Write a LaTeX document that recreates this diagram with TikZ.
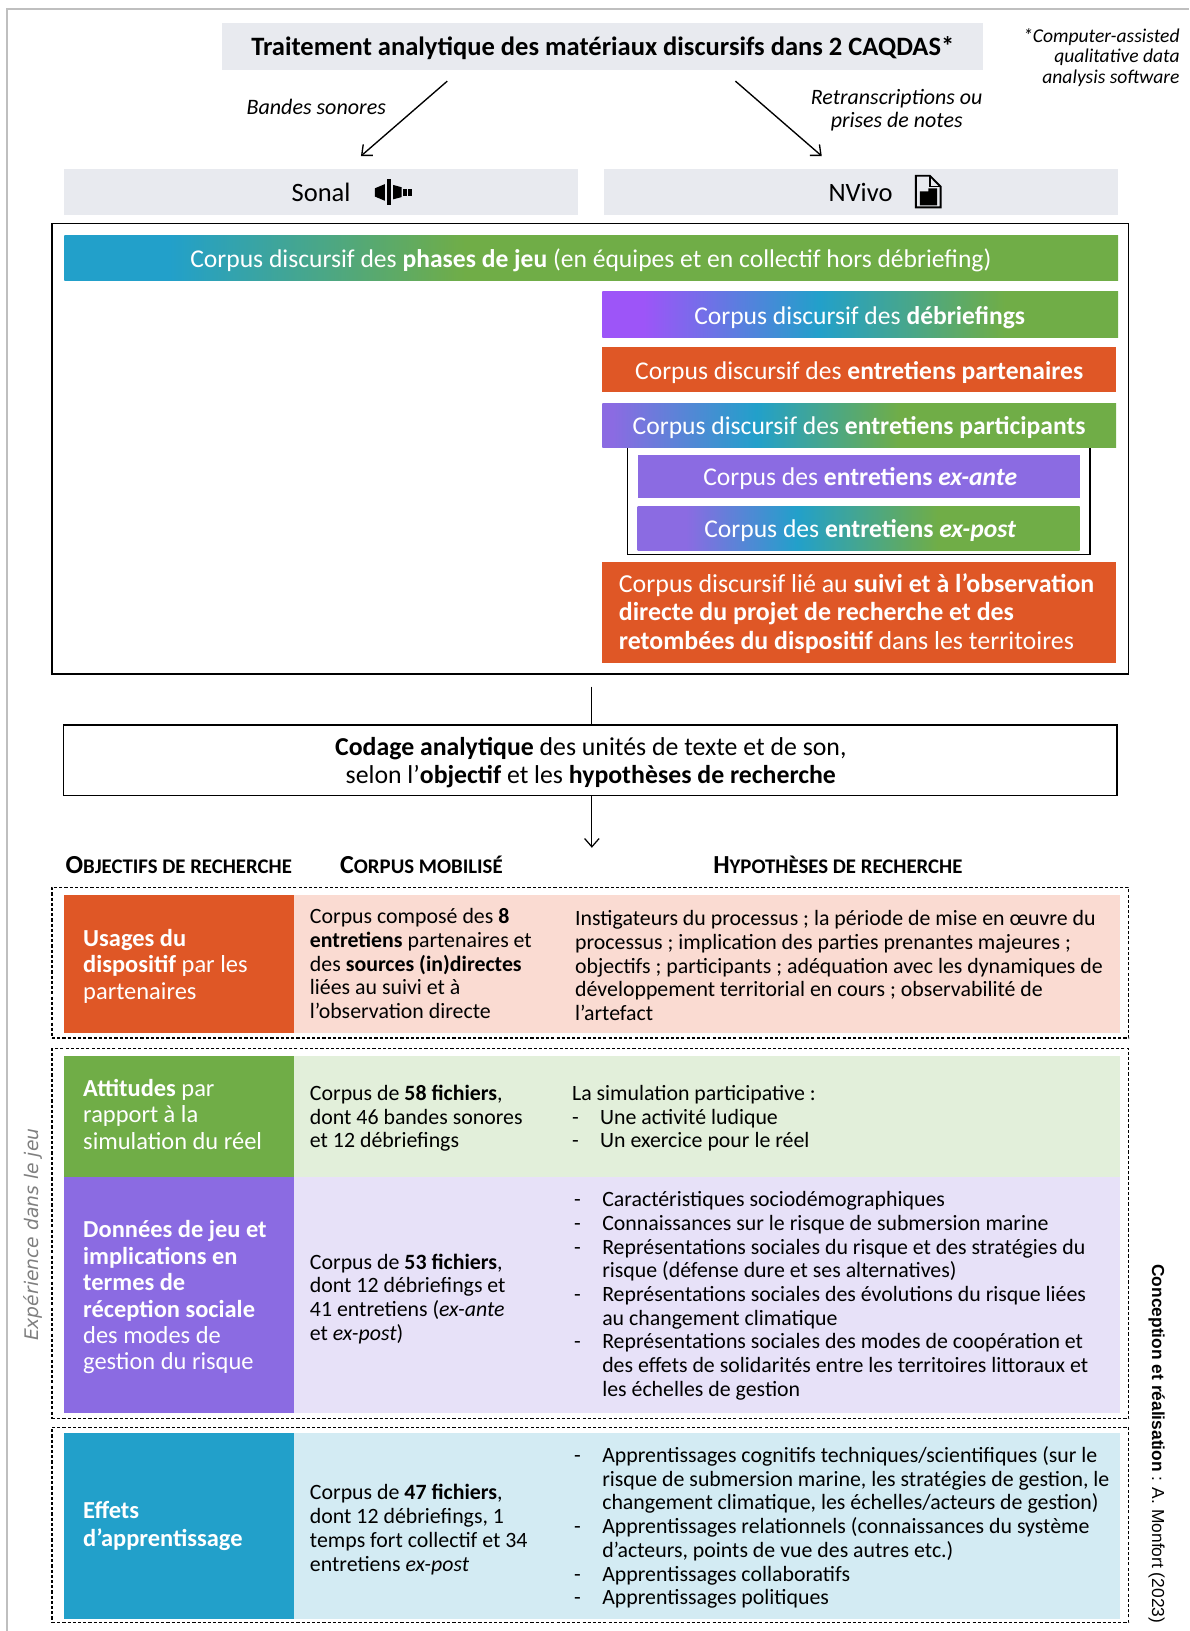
\documentclass[tikz,border=0pt]{standalone}
\usepackage{fontspec}
\setmainfont{Carlito}
\newfontfamily\dvsans{DejaVu Sans}
\newfontfamily\lsans{Liberation Sans}
\usetikzlibrary{arrows.meta,fit,calc}
\definecolor{boxgray}{HTML}{E8EAEF}
\definecolor{cblue}{HTML}{22A0CA}
\definecolor{cgreen}{HTML}{70AD47}
\definecolor{corange}{HTML}{DF5726}
\definecolor{cpurple}{HTML}{8B6BE2}
\definecolor{cviolet}{HTML}{9D55F8}
\definecolor{rowa}{HTML}{FADBD2}
\definecolor{rowb}{HTML}{E2EFDA}
\definecolor{rowc}{HTML}{E7E1F8}
\definecolor{rowd}{HTML}{D3EBF3}
\definecolor{framegray}{HTML}{BFBFBF}
\definecolor{vgray}{HTML}{7F7F7F}
\pgfdeclarehorizontalshading{gradA}{100bp}{color(0bp)=(cblue); color(30bp)=(cblue); color(44bp)=(cgreen); color(100bp)=(cgreen)}
\pgfdeclarehorizontalshading{gradB}{100bp}{color(0bp)=(cviolet); color(29bp)=(cviolet); color(46bp)=(cblue); color(64bp)=(cgreen); color(100bp)=(cgreen)}
\pgfdeclarehorizontalshading{gradC}{100bp}{color(0bp)=(cpurple); color(26bp)=(cpurple); color(40bp)=(cblue); color(54bp)=(cgreen); color(100bp)=(cgreen)}
\pgfdeclarehorizontalshading{gradD}{100bp}{color(0bp)=(cpurple); color(30.5bp)=(cpurple); color(43bp)=(cblue); color(59bp)=(cgreen); color(100bp)=(cgreen)}
\newcommand\ML[1]{\vtop{\halign{##\hfil\cr#1\crcr}}}
\newcommand\MLr[1]{\vtop{\halign{\hfil##\cr#1\crcr}}}
\newcommand\MLc[1]{\vtop{\halign{\hfil##\hfil\cr#1\crcr}}}
\newcommand\BL{\hbox to 27pt{-\hfil}}
\newcommand\CL{\hbox to 27pt{\hfil}}
\newcommand\FSC[2]{#1{\fontsize{20}{20}\selectfont #2}}
\begin{document}
\begin{tikzpicture}[x=1pt,y=-1pt,
  every node/.style={inner sep=0pt,outer sep=0pt},
  gbox/.style={fill=boxgray},
  frm/.style={draw,line width=1.4pt},
  dbox/.style={draw,line width=1.2pt,dash pattern=on 3pt off 2pt},
  bartxt/.style={text=white,font=\fontsize{24.6}{27}\selectfont,anchor=base},
  body/.style={font=\fontsize{21}{22.8}\selectfont,anchor=base west},
  lt/.style={text=white,font=\fontsize{23.5}{25.4}\selectfont,anchor=base west},
  hdr/.style={font=\fontsize{25}{25}\selectfont\bfseries,anchor=base west},
  arr/.style={line width=1.3pt,-{Straight Barb[length=8pt,width=14pt]}},
  conn/.style={line width=1.2pt}]
\useasboundingbox (0,0) rectangle (1143.2,1568);
\draw[framegray,line width=2pt] (7,1568) -- (7,8.5) -- (1143.2,8.5);

% top
\node[gbox,fit={(213,22)(945,67)}] (title) {};
\node[anchor=base,font=\fontsize{25.5}{28}\selectfont\bfseries] (titletxt) at (579.5,53) {Traitement analytique des matériaux discursifs dans 2 CAQDAS*};
\node[anchor=base east,font=\fontsize{18.8}{20}\selectfont\itshape] (fn) at (1134,40.5) {\MLr{*Computer-assisted\cr qualitative data\cr analysis software}};

\node[gbox,fit={(62,162)(556,207)}] (sonal) {};
\node[anchor=base east,font=\fontsize{25.5}{28}\selectfont] (sonaltxt) at (337,193.5) {Sonal};
\fill (360.5,181) -- (370,177) -- (370,193) -- (360.5,189) -- cycle;
\fill (372.3,172.4) rectangle (375.6,197);
\fill (378,177.8) -- (386,180) -- (386,189.5) -- (378,191.6) -- cycle;
\fill (387.7,182) rectangle (391.6,188.4);
\fill (392.5,182) rectangle (395.8,188.4);

\node[gbox,fit={(581,162)(1075,207)}] (nvivo) {};
\node[anchor=base east,font=\fontsize{25.5}{28}\selectfont] (nvivotxt) at (858,193.5) {NVivo};
\draw[line width=1.8pt,line join=miter] (880.5,169) -- (894,169) -- (904.3,179.5) -- (904.3,199.4) -- (880.5,199.4) -- cycle;
\draw[line width=1.2pt] (894,169) -- (894,179.5) -- (904.3,179.5);
\fill (884.4,184) -- (892.4,184) -- (892.4,181) -- (901,181) -- (901,197.5) -- (884.4,197.5) -- cycle;

\coordinate (a1s) at ($(title.south)+(-149,11)$);
\coordinate (a1e) at ($(sonal.north)+(38,-12)$);
\coordinate (a2s) at ($(title.south)+(128,11)$);
\coordinate (a2e) at ($(nvivo.north)+(-38,-12)$);
\draw[arr] (a1s) -- (a1e);
\draw[arr] (a2s) -- (a2e);
\node[anchor=base,font=\fontsize{21.2}{23}\selectfont\itshape] (lbs) at (304,110) {Bandes sonores};
\node[anchor=base,font=\fontsize{21.1}{23}\selectfont\itshape] (lrt) at (862,100) {\MLc{Retranscriptions ou\cr prises de notes}};

% big box
\node[frm,fit={(50,215)(1085,648)}] (big) {};
\node[frm,fit={(603,430)(1048,533)}] (inner) {};
\node[shading=gradA,fit={(62,226)(1075,270)}] (b1) {};
\node[shading=gradB,fit={(579,280)(1075,324)}] (b2) {};
\node[fill=corange,fit={(579,334)(1073,377)}] (b3) {};
\node[shading=gradC,fit={(579,388)(1073,430)}] (b4) {};
\node[fill=cpurple,fit={(613,437)(1038,479)}] (b5) {};
\node[shading=gradD,fit={(613,487)(1038,529)}] (b6) {};
\node[fill=corange,fit={(579,540)(1073,637)}] (b7) {};
\node[bartxt] (b1txt) at (568,257.5) {Corpus discursif des \textbf{phases de jeu} (en équipes et en collectif hors débriefing)};
\node[bartxt] (b2txt) at (826.5,311.5) {Corpus discursif des \textbf{débriefings}};
\node[bartxt] (b3txt) at (826,365) {Corpus discursif des \textbf{entretiens partenaires}};
\node[bartxt] (b4txt) at (826,418) {Corpus discursif des \textbf{entretiens participants}};
\node[bartxt] (b5txt) at (827,467) {Corpus des \textbf{entretiens \textit{ex-ante}}};
\node[bartxt] (b6txt) at (827,517) {Corpus des \textbf{entretiens \textit{ex-post}}};
\node[anchor=base west,text=white,font=\fontsize{24.9}{27}\selectfont] (b7txt) at (595,570) {\ML{Corpus discursif lié au \textbf{suivi et à l’observation}\cr \textbf{directe du projet de recherche et des}\cr \textbf{retombées du dispositif} dans les territoires}};

% codage
\node[frm,fit={(61,697)(1074,765)}] (codage) {};
\node[anchor=base,font=\fontsize{24.8}{27}\selectfont] (codtxt) at (568,726.5) {\MLc{\textbf{Codage analytique} des unités de texte et de son,\cr selon l’\textbf{objectif} et les \textbf{hypothèses de recherche}}};
\draw[conn] ($(big.south)+(1.5,12)$) -- ($(codage.north)+(1.5,0)$);
\draw[conn,-{Straight Barb[length=8pt,width=14pt]}] ($(codage.south)+(1.5,0)$) -- ($(codage.south)+(1.5,50)$);

% headers
\node[hdr] (h1) at (63,840) {\FSC{O}{BJECTIFS DE RECHERCHE}};
\node[hdr] (h2) at (327,840) {\FSC{C}{ORPUS MOBILISÉ}};
\node[hdr,anchor=base] (h3) at (805.5,840) {\FSC{H}{YPOTHÈSES DE RECHERCHE}};

% dashed groups
\node[dbox,fit={(50,853)(1085,998)}] (d1) {};
\node[dbox,fit={(50,1008)(1085,1364)}] (d2) {};
\node[dbox,fit={(50,1372)(1085,1560)}] (d3) {};

% cells
\node[fill=corange,fit={(62,860)(283,993)}] (r1l) {};
\node[fill=rowa,fit={(283,860)(1077,993)}] (r1r) {};
\node[fill=cgreen,fit={(62,1015)(283,1132)}] (r2l) {};
\node[fill=rowb,fit={(283,1015)(1077,1132)}] (r2r) {};
\node[fill=cpurple,fit={(62,1132)(283,1358)}] (r3l) {};
\node[fill=rowc,fit={(283,1132)(1077,1358)}] (r3r) {};
\node[fill=cblue,fit={(62,1378)(283,1556)}] (r4l) {};
\node[fill=rowd,fit={(283,1378)(1077,1556)}] (r4r) {};

% row 1
\node[lt] (t1l) at (80,910) {\ML{\textbf{Usages du}\cr\textbf{dispositif} par les\cr partenaires}};
\node[body] (t1m) at (298,888) {\ML{Corpus composé des \textbf{8}\cr \textbf{entretiens} partenaires et\cr des \textbf{sources (in)directes}\cr liées au suivi et à\cr l’observation directe}};
\node[body] (t1r) at (553,890) {\ML{Instigateurs du processus ; la période de mise en œuvre du\cr processus ; implication des parties prenantes majeures ;\cr objectifs ; participants ; adéquation avec les dynamiques de\cr développement territorial en cours ; observabilité de\cr l’artefact}};
% row 2
\node[lt] (t2l) at (80,1054) {\ML{\textbf{Attitudes} par\cr rapport à la\cr simulation du réel}};
\node[body] (t2m) at (298,1058) {\ML{Corpus de \textbf{58 fichiers},\cr dont 46 bandes sonores\cr et 12 débriefings}};
\node[body] (t2r) at (550,1058) {\ML{La simulation participative :\cr\BL Une activité ludique\cr\BL Un exercice pour le réel}};
% row 3
\node[lt] (t3l) at (80,1190) {\ML{\textbf{Données de jeu et}\cr\textbf{implications en}\cr\textbf{termes de}\cr\textbf{réception sociale}\cr des modes de\cr gestion du risque}};
\node[body] (t3m) at (298,1220) {\ML{Corpus de \textbf{53 fichiers},\cr dont 12 débriefings et\cr 41 entretiens (\textit{ex-ante}\cr et \textit{ex-post})}};
\node[body] (t3r) at (552,1160) {\ML{\BL Caractéristiques sociodémographiques\cr \BL Connaissances sur le risque de submersion marine\cr \BL Représentations sociales du risque et des stratégies du\cr \CL risque (défense dure et ses alternatives)\cr \BL Représentations sociales des évolutions du risque liées\cr \CL au changement climatique\cr \BL Représentations sociales des modes de coopération et\cr \CL des effets de solidarités entre les territoires littoraux et\cr \CL les échelles de gestion}};
% row 4
\node[lt,font=\fontsize{23.5}{27}\selectfont] (t4l) at (80,1460) {\ML{\textbf{Effets}\cr\textbf{d’apprentissage}}};
\node[body] (t4m) at (298,1442) {\ML{Corpus de \textbf{47 fichiers},\cr dont 12 débriefings, 1\cr temps fort collectif et 34\cr entretiens \textit{ex-post}}};
\node[body] (t4r) at (552,1406) {\ML{\BL Apprentissages cognitifs techniques/scientifiques (sur le\cr \CL risque de submersion marine, les stratégies de gestion, le\cr \CL changement climatique, les échelles/acteurs de gestion)\cr \BL Apprentissages relationnels (connaissances du système\cr \CL d’acteurs, points de vue des autres etc.)\cr \BL Apprentissages collaboratifs\cr \BL Apprentissages politiques}};

% vertical labels
\node[rotate=90,text=vgray,font=\dvsans\itshape\fontsize{18}{20}\selectfont] (exp) at (32,1187) {Expérience dans le jeu};
\node[rotate=-90,font=\lsans\fontsize{16.7}{18}\selectfont] (conc) at (1112,1388) {\textbf{Conception et réalisation} : A. Monfort (2023)};
\end{tikzpicture}
\end{document}
